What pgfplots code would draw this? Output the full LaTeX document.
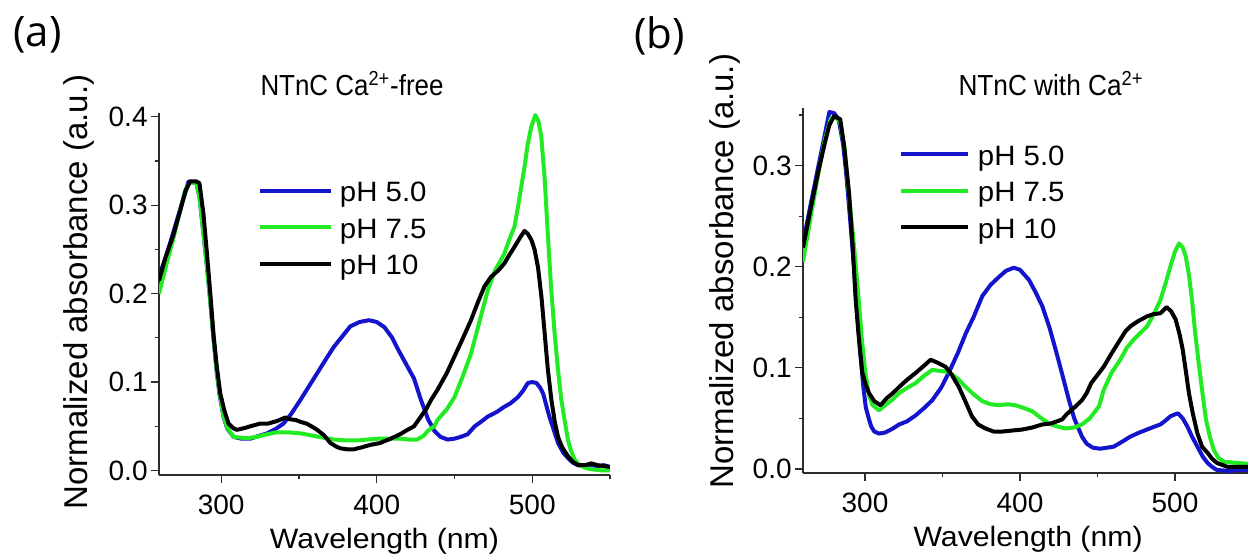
\documentclass[border=0pt]{standalone}
\usepackage{pgfplots}
\pgfplotsset{compat=1.18}
\usepackage{fontspec}
\setmainfont{Liberation Sans}
\newfontfamily\panelfont{Open Sans}
\definecolor{cblue}{RGB}{20,20,205}
\definecolor{cgreen}{RGB}{35,235,35}
\definecolor{axgray}{RGB}{45,45,45}

\pgfplotsset{
  myaxis/.style={
    scale only axis,
    axis lines*=left,
    axis line style={draw=axgray, line width=0.8pt},
    every tick/.style={draw=axgray, line width=0.6pt},
    tick align=outside,
    major tick length=4pt,
    minor tick length=2.2pt,
    xmin=260,
    xtick={300,400,500},
    minor xtick={350,450,550},
    ytick={0,0.1,0.2,0.3,0.4},
    minor ytick={0.05,0.15,0.25,0.35},
    /pgf/number format/assume math mode=true,
    yticklabel style={/pgf/number format/fixed, /pgf/number format/fixed zerofill, /pgf/number format/precision=1, xshift=-1.5pt},
    xticklabel style={yshift=-6pt},
    ticklabel style={font=\fontsize{14}{16}\selectfont, inner sep=0pt},
    ylabel style={font=\fontsize{16.5}{19}\selectfont, inner sep=0pt, anchor=base},
    xlabel style={font=\fontsize{14}{16}\selectfont, inner sep=0pt, anchor=base},
    legend cell align=left,
    every axis plot/.append style={line width=2pt, line join=round},
  }
}

\begin{document}
\begin{tikzpicture}
\useasboundingbox (0,0) rectangle (624pt,277.5pt);

\node[anchor=north west, inner sep=0pt, font=\panelfont\fontsize{21}{24}\selectfont] at (6.5pt,269.5pt) {(a)};
\node[anchor=north west, inner sep=0pt, font=\panelfont\fontsize{21}{24}\selectfont] at (317pt,269.5pt) {(b)};

\node[anchor=base, inner sep=0pt, font=\fontsize{14.5}{17}\selectfont] at (176pt,229.5pt) {\resizebox{91.5pt}{\height}{NTnC Ca\textsuperscript{2+}-free}};
\node[anchor=base, inner sep=0pt, font=\fontsize{14.5}{17}\selectfont] at (525.5pt,229.5pt) {\resizebox{92.5pt}{\height}{NTnC with Ca\textsuperscript{2+}}};

% ---------------- panel (a)
\begin{axis}[myaxis,
  at={(79.5pt,40pt)}, anchor=south west,
  width=225.5pt, height=181pt,
  xmax=550, ymin=-0.0051, ymax=0.4044,
  xlabel={\scalebox{1.08}[1]{Wavelength (nm)}},
  ylabel={Normalized absorbance (a.u.)},
  xlabel style={at={(axis description cs:0.5,-0.2017)}},
  ylabel style={at={(axis description cs:-0.1596,0.5055)}},
  legend style={at={(rel axis cs:0.2195,0.8106)}, anchor=north west, draw=none, fill=none,
    inner sep=0pt, outer sep=0pt, row sep=4.75pt, column sep=3.5pt,
    font=\fontsize{14}{16}\selectfont,
    nodes={inner sep=0pt, text height=10pt, text depth=3.5pt}},
  legend image code/.code={\draw[#1] (0pt,2.2pt) -- (35.5pt,2.2pt);},
]
\addplot[cblue] coordinates {
(260,0.219)(265,0.245)(269,0.268)(273,0.292)(277,0.315)(279,0.327)(284,0.325)(286,0.310)
(288.6,0.268)(291,0.228)(292.9,0.193)(295,0.150)(297.2,0.110)(299,0.085)(301.5,0.061)
(304,0.047)(308,0.038)(313,0.036)(318.7,0.036)(324,0.039)(329.5,0.042)(335,0.047)(340,0.053)
(345,0.064)(351,0.080)(356,0.094)(361.7,0.110)(367,0.125)(372.5,0.140)(378,0.152)(383,0.163)
(389,0.168)(395,0.170)(400,0.168)(405,0.162)(410,0.150)(414,0.136)(419,0.120)(424,0.104)
(428,0.082)(433,0.058)(437,0.045)(441,0.038)(445.6,0.035)(450,0.036)(454,0.038)(458.5,0.041)
(463,0.050)(467,0.055)(471.4,0.061)(477,0.066)(482,0.072)(486,0.076)(490.8,0.083)(494,0.090)
(497.2,0.099)(500,0.100)(502.6,0.099)(505,0.094)(507,0.087)(511,0.061)(514,0.045)(516.6,0.031)
(520,0.020)(523,0.014)(526,0.009)(529.5,0.006)(533,0.005)(538,0.006)(542,0.005)(546,0.006)(550,0.004)
};
\addlegendentry{\scalebox{1.05}[1]{pH 5.0}}
\addplot[cgreen] coordinates {
(260,0.200)(264,0.228)(269,0.261)(273,0.290)(277,0.318)(280,0.326)(284,0.325)(286,0.310)
(288.6,0.268)(291,0.228)(292.9,0.193)(295,0.152)(297.2,0.112)(299,0.087)(301.5,0.062)(304,0.048)
(308,0.038)(313,0.037)(318.7,0.037)(323,0.038)(327,0.040)(335,0.043)(344,0.043)(351,0.042)
(360,0.039)(366,0.037)(372.5,0.035)(380,0.034)(388,0.034)(394,0.035)(401,0.036)(408,0.036)
(415,0.036)(421,0.035)(426,0.035)(430,0.039)(433,0.045)(437,0.050)(439,0.057)(445,0.069)
(450,0.083)(455,0.105)(460.6,0.132)(466,0.168)(471.4,0.204)(476,0.226)(482,0.245)(485,0.260)
(488.6,0.276)(491,0.300)(495,0.343)(497,0.368)(499.4,0.389)(502,0.402)(504,0.395)(505.8,0.378)
(508,0.330)(510,0.268)(512,0.210)(514.4,0.155)(516.5,0.115)(518.7,0.080)(521,0.055)(523,0.034)
(525,0.022)(527.3,0.012)(530,0.007)(533,0.004)(536,0.002)(540,0.001)(545,0.000)(550,0.000)
};
\addlegendentry{\scalebox{1.05}[1]{pH 7.5}}
\addplot[black] coordinates {
(260,0.215)(264,0.240)(269,0.265)(273,0.290)(277,0.316)(280,0.327)(284,0.327)(286,0.325)
(288.6,0.290)(290.8,0.246)(293,0.200)(295,0.155)(297,0.120)(299.4,0.087)(302,0.068)(304.7,0.053)
(307.7,0.048)(310,0.046)(315,0.048)(318.7,0.050)(325,0.053)(330,0.053)(336,0.056)(341.3,0.060)
(344,0.058)(348,0.057)(351,0.055)(355,0.053)(358,0.050)(361.7,0.046)(366,0.040)(370.3,0.031)
(374,0.027)(376.8,0.025)(381,0.024)(385.4,0.024)(390,0.026)(396,0.029)(402,0.031)(409,0.036)
(415,0.041)(419.8,0.046)(424,0.050)(428,0.060)(432,0.070)(435,0.080)(439,0.091)(445,0.110)
(450,0.129)(455,0.148)(460.6,0.170)(465,0.190)(469.2,0.208)(473.5,0.219)(478,0.226)(482,0.234)
(485,0.243)(488.6,0.253)(492,0.263)(495,0.271)(497,0.268)(499.4,0.261)(501.5,0.250)(503.7,0.230)
(506,0.195)(508,0.155)(510,0.115)(512.3,0.080)(514.5,0.055)(516.6,0.038)(519,0.027)(523,0.016)
(526,0.010)(529.5,0.006)(534,0.006)(538,0.008)(542,0.006)(546,0.005)(550,0.004)
};
\addlegendentry{\scalebox{1.05}[1]{pH 10}}
\end{axis}

% ---------------- panel (b)
\begin{axis}[myaxis,
  at={(401.5pt,41pt)}, anchor=south west,
  width=222.4pt, height=182.5pt,
  xmax=547, ymin=-0.004, ymax=0.357,
  xlabel={\scalebox{1.08}[1]{Wavelength (nm)}},
  ylabel={Normalized absorbance (a.u.)},
  xlabel style={at={(axis description cs:0.506,-0.2027)}},
  ylabel style={at={(axis description cs:-0.156,0.553)}},
  legend style={at={(rel axis cs:0.2158,0.8985)}, anchor=north west, draw=none, fill=none,
    inner sep=0pt, outer sep=0pt, row sep=4.75pt, column sep=4pt,
    font=\fontsize{14}{16}\selectfont,
    nodes={inner sep=0pt, text height=10pt, text depth=3.5pt}},
  legend image code/.code={\draw[#1] (0pt,2.2pt) -- (33.5pt,2.2pt);},
]
\addplot[cblue] coordinates {
(260,0.223)(265,0.262)(270,0.300)(274,0.330)(277,0.353)(280,0.352)(283,0.346)(286,0.320)
(288,0.290)(290.5,0.245)(293,0.198)(295,0.155)(297,0.114)(299,0.080)(300.5,0.061)(302.6,0.049)
(304,0.042)(306,0.037)(309,0.035)(313,0.036)(318,0.040)(322,0.044)(327,0.047)(332.7,0.053)
(338,0.060)(343.4,0.068)(349,0.080)(354,0.095)(360,0.115)(365,0.134)(370,0.150)(375.7,0.171)
(381,0.182)(386.5,0.190)(391,0.196)(396,0.199)(400,0.197)(405.8,0.187)(410,0.175)(414.4,0.161)
(419,0.140)(423,0.118)(427,0.095)(431.6,0.068)(435,0.050)(440,0.032)(443,0.025)(447,0.021)
(451.7,0.020)(456,0.021)(460.4,0.022)(466,0.027)(471.2,0.032)(477,0.036)(482,0.039)(487,0.042)
(490.6,0.044)(494,0.048)(497,0.052)(500,0.054)(502,0.055)(505,0.050)(508,0.042)(511,0.032)
(514.5,0.022)(518,0.012)(521,0.006)(524,0.002)(527,-0.001)(535,-0.002)(540,-0.001)(547,-0.001)
};
\addlegendentry{\scalebox{1.05}[1]{pH 5.0}}
\addplot[cgreen] coordinates {
(260,0.205)(265,0.250)(270,0.293)(274,0.325)(278,0.347)(281,0.348)(284,0.343)(287,0.315)
(290,0.265)(293,0.219)(295.5,0.175)(298,0.128)(300,0.098)(302.6,0.072)(305,0.063)(309,0.058)
(313,0.063)(318,0.069)(322,0.075)(327,0.080)(332.7,0.085)(338,0.092)(343.4,0.098)(348,0.097)
(354,0.096)(360,0.089)(365,0.081)(370,0.074)(375.7,0.067)(381,0.064)(386.5,0.063)(392,0.064)
(397,0.063)(403,0.060)(408,0.057)(413,0.051)(418.7,0.045)(424,0.042)(429.4,0.040)(435,0.041)
(440,0.044)(445,0.050)(451,0.062)(454,0.078)(459,0.095)(464.7,0.108)(469,0.120)(473.4,0.128)
(478,0.135)(482,0.141)(486,0.152)(490.6,0.167)(494,0.184)(497,0.200)(500,0.215)(502.6,0.223)
(505,0.219)(507,0.210)(509,0.192)(511,0.167)(513,0.135)(515.6,0.101)(518,0.072)(520,0.049)
(522.5,0.032)(525,0.019)(528,0.011)(531.8,0.007)(540,0.006)(547,0.005)
};
\addlegendentry{\scalebox{1.05}[1]{pH 7.5}}
\addplot[black] coordinates {
(260,0.219)(265,0.258)(270,0.295)(274,0.322)(277,0.340)(280,0.349)(284,0.346)(286.5,0.320)
(289.7,0.273)(292,0.222)(294,0.167)(296,0.130)(298.3,0.095)(300.5,0.083)(302.6,0.075)(306,0.067)
(310,0.063)(314,0.070)(318,0.075)(322,0.081)(327,0.088)(332.7,0.095)(338,0.102)(342.4,0.108)
(347,0.105)(352,0.101)(356,0.093)(360.6,0.081)(365,0.066)(369,0.052)(373,0.044)(377.8,0.040)
(383,0.037)(388.6,0.037)(395,0.038)(401.5,0.039)(408,0.041)(414.4,0.044)(420,0.045)(427.3,0.049)
(430,0.054)(436,0.062)(440,0.068)(443,0.075)(446,0.085)(451,0.095)(454,0.101)(459,0.114)
(464.7,0.128)(468,0.136)(471.2,0.141)(476,0.146)(482,0.151)(486,0.153)(490.6,0.154)(494.6,0.160)
(497.5,0.156)(500.4,0.148)(503,0.133)(505,0.118)(507,0.097)(509,0.075)(511.5,0.055)(514.5,0.035)
(517.5,0.022)(521,0.016)(524,0.010)(527,0.006)(534,0.002)(540,0.002)(547,0.002)
};
\addlegendentry{\scalebox{1.05}[1]{pH 10}}
\end{axis}
\end{tikzpicture}
\end{document}
